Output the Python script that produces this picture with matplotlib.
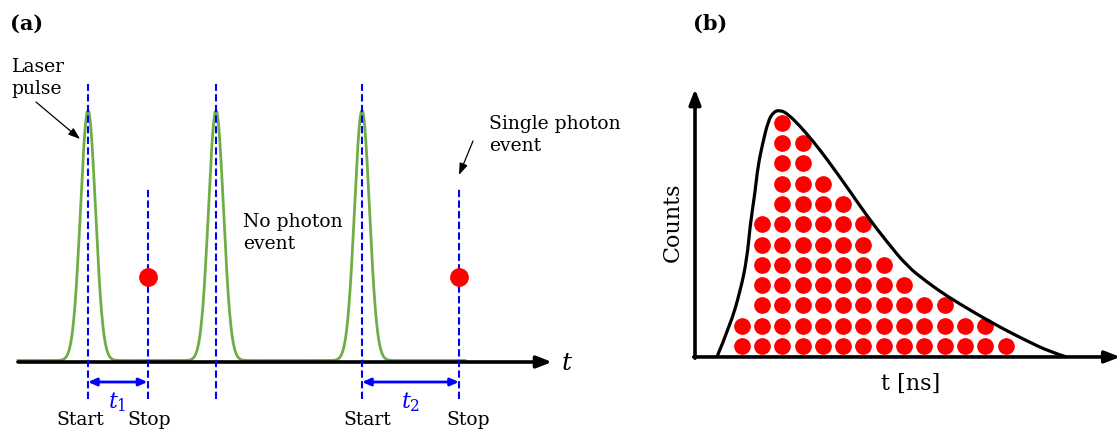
import numpy as np
import matplotlib
matplotlib.use('Agg')
import matplotlib.pyplot as plt
from matplotlib.path import Path
from matplotlib.patches import PathPatch

plt.rcParams['mathtext.fontset'] = 'dejavuserif'

# Panel (a): timing of laser pulses and photon detections
pulse_times = [8.8, 21.6, 36.2]        # laser pulse centres
pulse_width = 0.75                      # gaussian sigma of a pulse
stop_times = [14.75, 45.9]              # single photon detection times
start_for_stop = [8.8, 36.2]            # start (pulse) belonging to each stop
interval_labels = ['$t_1$', '$t_2$']
photon_level = 0.34

# Panel (b): histogram of counts (number of dots per time bin)
bin_counts = [2, 7, 12, 11, 9, 8, 7, 5, 4, 3, 3, 2, 2, 1]
bin_offset = 2.3

# Outline of the decay curve drawn over the histogram
curve_t = [1.08, 1.72, 2.22, 2.56, 2.71, 2.96, 3.1, 3.35, 3.6, 3.85, 4.19,
           4.58, 5.17, 5.81, 6.5, 7.49, 8.47, 9.46, 10.44, 11.43, 12.41,
           13.7, 15.0, 16.35, 17.5, 18.3]
curve_counts = [0.0, 1.53, 3.2, 4.83, 6.45, 8.13, 9.4, 10.6, 11.6, 12.07, 12.17,
                11.97, 11.38, 10.64, 9.75, 8.37, 6.95, 5.67, 4.48, 3.69, 3.0,
                2.22, 1.48, 0.79, 0.25, 0.0]

serif = 'DejaVu Serif'
green = '#70AD47'
blue = '#0000FF'
red = '#FF0000'

fig = plt.figure(figsize=(11.19, 4.31), dpi=100)

# ---------------------------------------------------------------
# (a)
# ---------------------------------------------------------------
ax1 = fig.add_axes([0, 0, 640 / 1119, 1])
ax1.set_xlim(0, 64)
ax1.set_ylim(-0.272, 1.452)
ax1.axis('off')

t = np.linspace(1.8, 46.5, 3000)
signal = np.zeros_like(t)
for p in pulse_times:
    signal += np.exp(-(t - p) ** 2 / (2 * pulse_width ** 2))
ax1.plot(t, signal + 0.006, color=green, lw=2.0, zorder=2)

# time axis
ax1.annotate('', xy=(55.2, 0), xytext=(1.8, 0),
             arrowprops=dict(arrowstyle='-|>,head_length=0.9,head_width=0.35',
                             lw=2.6, color='black', shrinkA=0, shrinkB=0), zorder=3)
ax1.text(56.1, 0.0, '$t$', fontsize=18, va='center', ha='left')

dash = (0, (3.5, 1.6))
for p in pulse_times:
    ax1.plot([p, p], [-0.148, 1.112], color=blue, lw=1.5, ls=dash, zorder=4)
for s in stop_times:
    ax1.plot([s, s], [-0.148, 0.692], color=blue, lw=1.5, ls=dash, zorder=4)
    ax1.plot(s, photon_level, 'o', color=red, ms=12.5, zorder=5)

for s0, s1, lab in zip(start_for_stop, stop_times, interval_labels):
    ax1.annotate('', xy=(s1, -0.08), xytext=(s0, -0.08),
                 arrowprops=dict(arrowstyle='<|-|>,head_length=0.5,head_width=0.22',
                                 lw=2.0, color=blue, shrinkA=0, shrinkB=0))
    ax1.text((s0 + s1) / 2, -0.155, lab, color=blue, fontsize=16,
             ha='center', va='center')

for x in [8.0, 36.7]:
    ax1.text(x, -0.228, 'Start', family=serif, fontsize=13.5, ha='center', va='center')
for x in [14.9, 46.8]:
    ax1.text(x, -0.228, 'Stop', family=serif, fontsize=13.5, ha='center', va='center')

ax1.text(1.0, 1.356, '(a)', family=serif, fontweight='bold', fontsize=15,
         ha='left', va='center')
ax1.text(1.2, 1.14, 'Laser\npulse', family=serif, fontsize=13.5, ha='left',
         va='center', linespacing=1.3)
ax1.annotate('', xy=(8.0, 0.892), xytext=(3.6, 1.04),
             arrowprops=dict(arrowstyle='-|>,head_length=0.7,head_width=0.25',
                             lw=0.9, color='black', shrinkA=0, shrinkB=0))
ax1.text(24.3, 0.52, 'No photon\nevent', family=serif, fontsize=13.5, ha='left',
         va='center', linespacing=1.3)
ax1.text(48.9, 0.912, 'Single photon\nevent', family=serif, fontsize=13.5,
         ha='left', va='center', linespacing=1.3)
ax1.annotate('', xy=(45.9, 0.748), xytext=(47.3, 0.884),
             arrowprops=dict(arrowstyle='-|>,head_length=0.7,head_width=0.25',
                             lw=0.9, color='black', shrinkA=0, shrinkB=0))

# ---------------------------------------------------------------
# (b)
# ---------------------------------------------------------------
ax2 = fig.add_axes([640 / 1119, 0, 479 / 1119, 1])
ax2.set_xlim(-2.71, 20.89)
ax2.set_ylim(-3.6, 17.64)
ax2.axis('off')

for i, n in enumerate(bin_counts):
    xs = np.full(n, bin_offset + i)
    ys = np.arange(n) + 0.54
    ax2.plot(xs, ys, 'o', color=red, ms=11, zorder=2, ls='none')

# smooth outline: read points used as quadratic bezier controls
pts = np.column_stack([curve_t, curve_counts])
verts = [pts[0]]
codes = [Path.MOVETO]
for k in range(1, len(pts) - 1):
    mid = (pts[k] + pts[k + 1]) / 2 if k < len(pts) - 2 else pts[k + 1]
    verts += [pts[k], mid]
    codes += [Path.CURVE3, Path.CURVE3]
ax2.add_patch(PathPatch(Path(verts, codes), fill=False, lw=2.3,
                        edgecolor='black', zorder=3, joinstyle='round'))

ax2.annotate('', xy=(0, 13.2), xytext=(0, -0.06),
             arrowprops=dict(arrowstyle='-|>,head_length=0.9,head_width=0.35',
                             lw=2.6, color='black', shrinkA=0, shrinkB=0), zorder=4)
ax2.annotate('', xy=(20.95, 0), xytext=(-0.06, 0), annotation_clip=False,
             arrowprops=dict(arrowstyle='-|>,head_length=0.9,head_width=0.35',
                             lw=2.6, color='black', shrinkA=0, shrinkB=0), zorder=4)

ax2.text(-1.1, 6.7, 'Counts', family=serif, fontsize=16, rotation=90,
         ha='center', va='center')
ax2.text(10.6, -1.3, 't [ns]', family=serif, fontsize=16, ha='center', va='center')
ax2.text(0.75, 16.45, '(b)', family=serif, fontweight='bold', fontsize=15,
         ha='center', va='center')

fig.savefig('out.png', dpi=100)
